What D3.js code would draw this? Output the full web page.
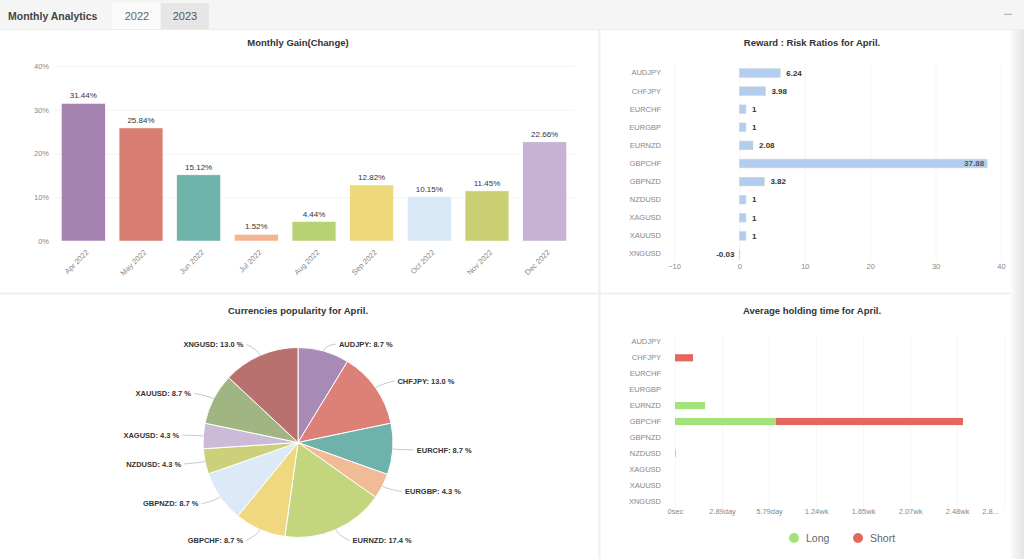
<!DOCTYPE html>
<html><head><meta charset="utf-8">
<script src="https://cdn.jsdelivr.net/npm/d3@7"></script>
<style>
html,body{margin:0;padding:0;background:#fff;}
svg{display:block;font-family:"Liberation Sans",Arial,sans-serif;}
</style></head>
<body><svg id="c" width="1024" height="559"></svg>
<script>
// ---- data ----
const months = ["Apr 2022","May 2022","Jun 2022","Jul 2022","Aug 2022","Sep 2022","Oct 2022","Nov 2022","Dec 2022"];
const monthlyGain = [31.44,25.84,15.12,1.52,4.44,12.82,10.15,11.45,22.66];
const monthColors = ["#a682b0","#d77d72","#6fb3ab","#f3b58f","#b7d272","#eed87c","#d9e8f6","#c9cf72","#c5b2d4"];
const gainTicks = [0,10,20,30,40];

const pairs = ["AUDJPY","CHFJPY","EURCHF","EURGBP","EURNZD","GBPCHF","GBPNZD","NZDUSD","XAGUSD","XAUUSD","XNGUSD"];
const rewardRisk = [6.24,3.98,1,1,2.08,37.88,3.82,1,1,1,-0.03];
const rrTicks = [-10,0,10,20,30,40];

const popularity = [8.7,13.0,8.7,4.3,17.4,8.7,8.7,4.3,4.3,8.7,13.0];
const pieColors = ["#a88ab6","#dc8078","#6fb2ab","#f2bb98","#c3d67e","#f0d880","#dce9f6","#ccd07a","#cbbbd9","#a1b583","#b9716f"];

// holding time in seconds
const holdLong  = [0,0,0,0,160000,537000,0,5000,0,0,0];
const holdShort = [0,96000,0,0,0,995000,0,0,0,0,0];
const holdTicks = [0,250000,500000,750000,1000000,1250000,1500000,1750000];
const holdTickLabels = ["0sec","2.89day","5.79day","1.24wk","1.65wk","2.07wk","2.48wk","2.8..."];
const holdSeries = ["Long","Short"];
const holdColors = ["#a4e27c","#e4675d"];

// ---- layout ----
const svg = d3.select("#c");
svg.append("rect").attr("width",1024).attr("height",559).attr("fill","#fff");
// header
svg.append("rect").attr("x",0).attr("y",0).attr("width",1024).attr("height",29).attr("fill","#f5f5f5");
svg.append("line").attr("x1",0).attr("x2",1024).attr("y1",29.5).attr("y2",29.5).attr("stroke","#ececec");
svg.append("rect").attr("x",112).attr("y",3).attr("width",48).attr("height",26).attr("fill","#fafafa");
svg.append("rect").attr("x",161).attr("y",3).attr("width",48).attr("height",26).attr("fill","#e6e6e6");
svg.append("text").attr("x",8).attr("y",20).attr("font-size",10.5).attr("font-weight","bold").attr("fill","#444").text("Monthly Analytics");
svg.append("text").attr("x",137).attr("y",20).attr("text-anchor","middle").attr("font-size",11).attr("fill","#666").text("2022");
svg.append("text").attr("x",185).attr("y",20).attr("text-anchor","middle").attr("font-size",11).attr("fill","#555").text("2023");
svg.append("text").attr("x",1008).attr("y",15).attr("text-anchor","middle").attr("font-size",9).attr("fill","#888").attr("font-weight","bold").text("...");
// panel separators
svg.append("line").attr("x1",599.5).attr("x2",599.5).attr("y1",30).attr("y2",559).attr("stroke","#efefef").attr("stroke-width",2);
svg.append("line").attr("x1",0).attr("x2",1012).attr("y1",293.5).attr("y2",293.5).attr("stroke","#efefef").attr("stroke-width",2);
// right shadow strip
const grad = svg.append("defs").append("linearGradient").attr("id","sg");
grad.append("stop").attr("offset","0%").attr("stop-color","#fafafa");
grad.append("stop").attr("offset","100%").attr("stop-color","#e4e4e4");
svg.append("rect").attr("x",1011).attr("y",30).attr("width",13).attr("height",529).attr("fill","url(#sg)");

function title(x,y,t){svg.append("text").attr("x",x).attr("y",y).attr("text-anchor","middle").attr("font-size",9.5).attr("font-weight","bold").attr("fill","#333").text(t);}
title(298,46,"Monthly Gain(Change)");
title(812,46,"Reward : Risk Ratios for April.");
title(298,314,"Currencies popularity for April.");
title(812,314,"Average holding time for April.");

// ---- Chart 1: monthly gain ----
{
  const x = d3.scaleBand().domain(months).range([54.5,573.5]).paddingInner(0.24).paddingOuter(0.12);
  const y = d3.scaleLinear().domain([0,40]).range([241,66]);
  const g = svg.append("g");
  g.selectAll("line.grid").data(gainTicks.slice(1)).join("line")
    .attr("x1",54).attr("x2",574).attr("y1",d=>y(d)+0.5).attr("y2",d=>y(d)+0.5).attr("stroke","#f3f3f3");
  const ax = g.append("g").attr("transform","translate(49,0)")
    .call(d3.axisLeft(y).tickValues(gainTicks).tickFormat(d=>d+"%").tickSize(0).tickPadding(0));
  ax.select(".domain").remove();
  ax.selectAll("text").attr("font-size",7.5).attr("fill","#888").attr("font-family","Liberation Sans,Arial");
  g.selectAll("rect.bar").data(months).join("rect")
    .attr("x",d=>x(d)).attr("width",x.bandwidth())
    .attr("y",(d,i)=>y(monthlyGain[i])).attr("height",(d,i)=>y(0)-y(monthlyGain[i]))
    .attr("fill",(d,i)=>monthColors[i]).attr("stroke","#fff").attr("stroke-width",0.5);
  g.selectAll("text.val").data(months).join("text")
    .attr("x",d=>x(d)+x.bandwidth()/2).attr("y",(d,i)=>y(monthlyGain[i])-5)
    .attr("text-anchor","middle").attr("font-size",8).attr("fill","#333")
    .text((d,i)=>monthlyGain[i].toFixed(2)+"%");
  const bx = g.append("g").attr("transform","translate(0,241)")
    .call(d3.axisBottom(x).tickSize(0).tickPadding(0));
  bx.select(".domain").remove();
  bx.selectAll("text").attr("font-size",7.5).attr("fill","#888").attr("text-anchor","end")
    .attr("font-family","Liberation Sans,Arial")
    .attr("transform","translate(4,10) rotate(-45)").attr("dy","0.35em");
}

// ---- Chart 2: reward/risk ----
{
  const y = d3.scaleBand().domain(pairs).range([64,263]).paddingInner(0.52).paddingOuter(0.26);
  const x = d3.scaleLinear().domain([-10,40]).range([674,1001]);
  const g = svg.append("g");
  g.selectAll("line.grid").data(rrTicks).join("line")
    .attr("x1",d=>x(d)+0.5).attr("x2",d=>x(d)+0.5).attr("y1",64).attr("y2",262).attr("stroke","#f6f6f6");
  const ay = g.append("g").attr("transform","translate(661,0)").call(d3.axisLeft(y).tickSize(0).tickPadding(0));
  ay.select(".domain").remove();
  ay.selectAll("text").attr("font-size",7.5).attr("fill","#888").attr("font-family","Liberation Sans,Arial");
  const axx = g.append("g").attr("transform","translate(0,264)").call(d3.axisBottom(x).tickValues(rrTicks).tickSize(0).tickPadding(0));
  axx.select(".domain").remove();
  axx.selectAll("text").attr("font-size",7.5).attr("fill","#888").attr("font-family","Liberation Sans,Arial").attr("dy","0.71em");
  g.selectAll("rect.bar").data(pairs).join("rect")
    .attr("x",(d,i)=>x(Math.min(0,rewardRisk[i]))).attr("width",(d,i)=>Math.max(0.5,Math.abs(x(rewardRisk[i])-x(0))))
    .attr("y",d=>y(d)).attr("height",y.bandwidth())
    .attr("fill","#b2cdee").attr("stroke","#d0d6de").attr("stroke-width",0.6);
  g.selectAll("text.val").data(pairs).join("text")
    .attr("x",(d,i)=>{const v=rewardRisk[i]; if(v>30) return x(v)-3; if(v<0) return x(0)-5; return x(v)+6;})
    .attr("y",d=>y(d)+y.bandwidth()/2).attr("dy","0.35em")
    .attr("text-anchor",(d,i)=>rewardRisk[i]>30||rewardRisk[i]<0?"end":"start")
    .attr("font-size",8).attr("font-weight","bold").attr("fill",(d,i)=>rewardRisk[i]>30?"#555":"#333")
    .text((d,i)=>rewardRisk[i]);
}

// ---- Chart 3: pie ----
{
  const cx=298, cy=442.5, r=95;
  const pie = d3.pie().sort(null).value(d=>d)(popularity);
  const arc = d3.arc().innerRadius(0).outerRadius(r);
  const g = svg.append("g").attr("transform",`translate(${cx},${cy})`);
  g.selectAll("path").data(pie).join("path").attr("d",arc)
    .attr("fill",(d,i)=>pieColors[i]).attr("stroke","#fff").attr("stroke-width",1);
  pie.forEach((d,i)=>{
    const a=(d.startAngle+d.endAngle)/2;
    const sx=Math.sin(a), sy=-Math.cos(a);
    const p0=[sx*r, sy*r];
    const ly = Math.max(-98.5, Math.min(99.5, sy*(r+12)));
    const right = sx>=0;
    const lx = sx*(r+12) + (right?12:-12);
    const p1=[sx*(r+6), Math.max(-100,Math.min(100, sy*(r+6)))];
    const p2=[lx+(right?-3:3), ly];
    g.append("path").attr("d",`M${p0[0]},${p0[1]} Q${p1[0]},${p1[1]} ${p2[0]},${p2[1]}`)
      .attr("fill","none").attr("stroke","#bbb").attr("stroke-width",0.8);
    g.append("text").attr("x",lx).attr("y",ly).attr("dy","0.35em")
      .attr("text-anchor",right?"start":"end").attr("font-size",7.5).attr("font-weight","bold").attr("fill","#333")
      .text(pairs[i]+": "+popularity[i].toFixed(1)+" %");
  });
}

// ---- Chart 4: holding time ----
{
  const y = d3.scaleBand().domain(pairs).range([334,509]).paddingInner(0.55).paddingOuter(0.27);
  const x = d3.scaleLinear().domain([0,1750000]).range([675,1004]);
  const g = svg.append("g");
  g.selectAll("line.grid").data(holdTicks).join("line")
    .attr("x1",d=>x(d)+0.5).attr("x2",d=>x(d)+0.5).attr("y1",334).attr("y2",508).attr("stroke","#f6f6f6");
  const ay = g.append("g").attr("transform","translate(661,0)").call(d3.axisLeft(y).tickSize(0).tickPadding(0));
  ay.select(".domain").remove();
  ay.selectAll("text").attr("font-size",7.5).attr("fill","#888").attr("font-family","Liberation Sans,Arial");
  const axx = g.append("g").attr("transform","translate(0,509)")
    .call(d3.axisBottom(x).tickValues(holdTicks).tickFormat((d,i)=>holdTickLabels[i]).tickSize(0).tickPadding(0));
  axx.select(".domain").remove();
  axx.selectAll("text").attr("font-size",7.5).attr("fill","#888").attr("font-family","Liberation Sans,Arial").attr("dy","0.71em");
  axx.selectAll(".tick").filter((d,i)=>i===holdTicks.length-1).select("text").attr("dx",-14);
  const stack = pairs.map((p,i)=>({p, long:holdLong[i], short:holdShort[i]}));
  g.selectAll("rect.long").data(stack).join("rect")
    .attr("x",x(0)).attr("width",d=>x(d.long)-x(0)).attr("y",d=>y(d.p)).attr("height",y.bandwidth())
    .attr("fill",holdColors[0]);
  g.selectAll("rect.short").data(stack).join("rect")
    .attr("x",d=>x(d.long)).attr("width",d=>x(d.long+d.short)-x(d.long)).attr("y",d=>y(d.p)).attr("height",y.bandwidth())
    .attr("fill",holdColors[1]);
  // legend
  const lg = svg.append("g");
  const lx=[794,858];
  holdSeries.forEach((s,i)=>{
    lg.append("circle").attr("cx",lx[i]).attr("cy",538).attr("r",5).attr("fill",holdColors[i]);
    lg.append("text").attr("x",lx[i]+12).attr("y",538).attr("dy","0.35em").attr("font-size",10.5).attr("fill","#666").text(s);
  });
}
</script></body></html>
